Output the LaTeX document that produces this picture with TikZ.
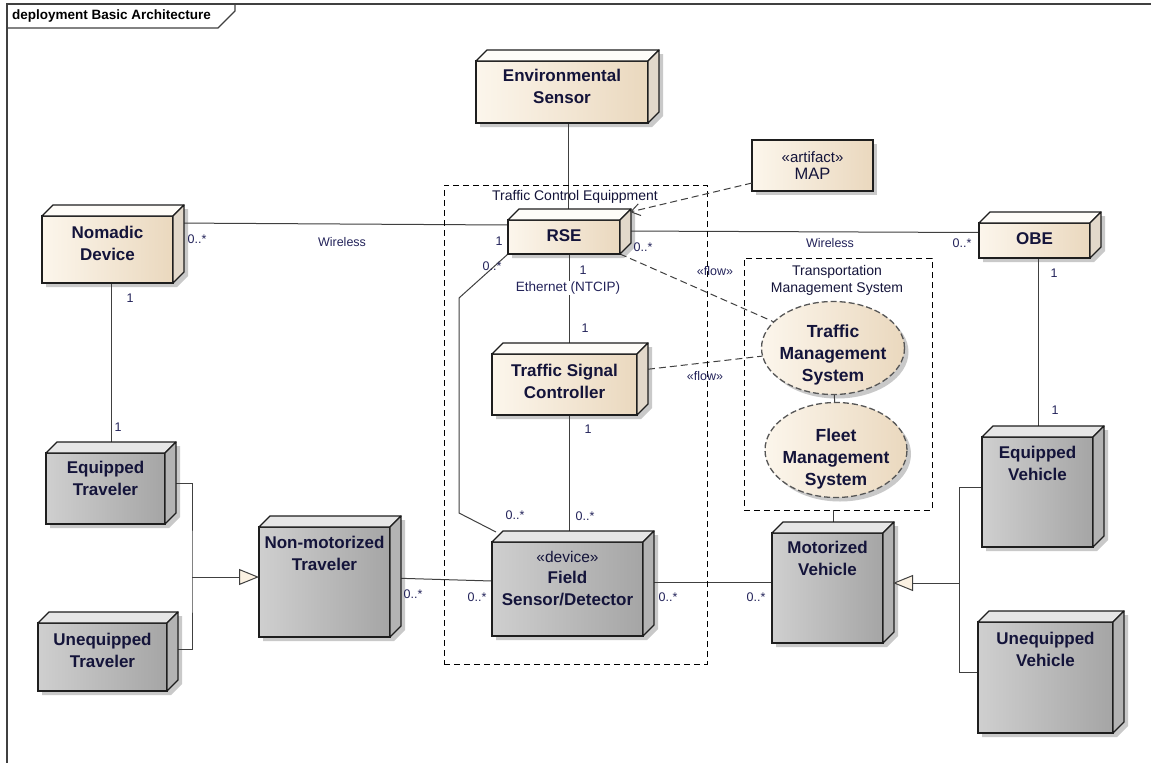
\documentclass[tikz,border=0pt]{standalone}
\usepackage{fontspec}
\setmainfont{Liberation Sans}
\usetikzlibrary{positioning,calc,shapes.geometric,arrows.meta}

\definecolor{beigeL}{HTML}{FCF6EC}
\definecolor{beigeR}{HTML}{EAD8BE}
\definecolor{beigeTop}{HTML}{FEFCF8}
\definecolor{beigeSide}{HTML}{E2D8CA}
\definecolor{greyL}{HTML}{CFCFCF}
\definecolor{greyR}{HTML}{A5A5A5}
\definecolor{greyTop}{HTML}{E6E6E6}
\definecolor{greySide}{HTML}{B3B3B3}
\definecolor{shadowc}{HTML}{C9C9C9}
\definecolor{edgec}{HTML}{1E1E1E}
\definecolor{txtc}{HTML}{14143A}
\definecolor{lblc}{HTML}{23235A}
\definecolor{trifill}{HTML}{FBF1E2}

\pgfdeclarelayer{shade}
\pgfdeclarelayer{back}
\pgfsetlayers{shade,back,main}

\tikzset{
  devbox/.style={rectangle, draw=edgec, line width=1.3pt, outer sep=0pt, inner sep=0pt},
  beigeface/.style={left color=beigeL, right color=beigeR},
  beigetop/.style={fill=beigeTop},
  beigeside/.style={fill=beigeSide},
  greyface/.style={left color=greyL, right color=greyR},
  greytop/.style={fill=greyTop},
  greyside/.style={fill=greySide},
  facet/.style={draw=edgec, line width=1.3pt, line join=round},
  devtext/.style={inner sep=0pt, align=center, text=txtc, font=\fontsize{17}{21.5}\selectfont\bfseries},
  lbl/.style={inner sep=0pt, text=lblc, font=\fontsize{12.5}{15}\selectfont},
  grouplbl/.style={inner sep=0pt, align=center, text=txtc, font=\fontsize{14}{17}\selectfont},
  conn/.style={draw=edgec!85, line width=1pt},
  flow/.style={conn, dash pattern=on 7pt off 4pt},
  gen/.style={conn, -{Triangle[length=20pt,width=16pt,fill=trifill]}},
  dashbox/.style={rectangle, draw=black, line width=1pt, dash pattern=on 6pt off 4pt, outer sep=0pt, inner sep=0pt},
  usecase/.style={ellipse, draw=edgec!75, line width=1.3pt, dash pattern=on 6pt off 3pt,
    left color=beigeL, right color=beigeR, outer sep=0pt, inner sep=0pt},
  artbox/.style={rectangle, draw=edgec, line width=1.3pt, left color=beigeL, right color=beigeR,
    align=center, text=txtc, inner sep=0pt, outer sep=0pt, font=\fontsize{15}{16.5}\selectfont},
}

% node box: name, front x1, y1, x2, y2, colour set, text gap, text
\newcommand{\devnode}[8]{%
  \begin{pgfonlayer}{shade}
    \fill[shadowc] ({#2+4},{#5+4}) -- ({#2+4},{#3+4}) -- ({#2+15},{#3-7}) -- ({#4+15},{#3-7})
      -- ({#4+15},{#5-7}) -- ({#4+4},{#5+4}) -- cycle;
  \end{pgfonlayer}
  \node[devbox, #6face, minimum width={(#4-#2)*1pt}, minimum height={(#5-#3)*1pt}]
    (#1) at ({(#2+#4)/2},{(#3+#5)/2}) {};
  \filldraw[facet, #6top] (#1.north west) -- ++(11,-11) -- ++({#4-#2},0) -- (#1.north east) -- cycle;
  \filldraw[facet, #6side] (#1.north east) -- ++(11,-11) -- ++(0,{#5-#3}) -- (#1.south east) -- cycle;
  \node[devtext, below=#7pt of #1.north] (#1-t) {#8};
}

\begin{document}
\begin{tikzpicture}[x=1pt,y=-1pt]
\useasboundingbox (0,0) rectangle (1151,763);
\begin{pgfonlayer}{shade}
  \fill[white] (0,0) rectangle (1151,763);
\end{pgfonlayer}

% frame
\draw[draw=black!75, line width=1.5pt] (1151,4) -- (7,4) -- (7,763);
\draw[draw=black!75, line width=1.2pt] (7,28) -- (218,28) -- (235,11) -- (235,4);
\node[anchor=west, inner sep=0pt, font=\fontsize{13.5}{15}\selectfont\bfseries] (frame-t) at (12,16) {deployment Basic Architecture};

% groups
\node[dashbox, minimum width=263pt, minimum height=479pt] (tcebox) at (575.5,424.5) {};
\node[grouplbl] (tcebox-t) at (575,197) {Traffic Control Equippment};
\node[dashbox, minimum width=188pt, minimum height=252pt] (tmsbox) at (838,384) {};
\node[grouplbl] (tmsbox-t) at (837,280) {Transportation\\Management System};

% nodes
\devnode{env}{476}{61}{648}{123}{beige}{8}{Environmental\\Sensor}
\devnode{nomadic}{42}{216}{173}{283}{beige}{10}{Nomadic\\Device}
\devnode{rse}{508}{220}{620}{254}{beige}{9}{RSE}
\devnode{tsc}{492}{354}{637}{415}{beige}{10}{Traffic Signal\\Controller}
\devnode{obe}{979}{223}{1090}{258}{beige}{9}{OBE}
\devnode{eqtrav}{46}{453}{165}{524}{grey}{8}{Equipped\\Traveler}
\devnode{uneqtrav}{38}{623}{167}{691}{grey}{10}{Unequipped\\Traveler}
\devnode{nonmot}{259}{527}{390}{637}{grey}{9}{Non-motorized\\Traveler}
\devnode{field}{492}{542}{643}{636}{grey}{9}{{\mdseries\fontsize{15.5}{21}\selectfont «device»}\\Field\\Sensor/Detector}
\devnode{motveh}{772}{533}{883}{643}{grey}{8}{Motorized\\Vehicle}
\devnode{eqveh}{982}{437}{1093}{547}{grey}{9}{Equipped\\Vehicle}
\devnode{uneqveh}{978}{622}{1113}{733}{grey}{10}{Unequipped\\Vehicle}

\begin{pgfonlayer}{shade}
  \fill[shadowc] (756,144) rectangle (877,195);
  \fill[shadowc] (837,352) ellipse (71.5 and 46.5);
  \fill[shadowc] (840,454) ellipse (71 and 47.5);
\end{pgfonlayer}
\node[artbox, minimum width=121pt, minimum height=51pt] (map) at (812.5,165.5)
  {«artifact»\\{\fontsize{16.5}{16.5}\selectfont MAP}};

\node[usecase, minimum width=143pt, minimum height=93pt] (tms) at (833,348) {};
\node[devtext, font=\fontsize{17.5}{22}\selectfont\bfseries] (tms-t) at (833,355) {Traffic\\Management\\System};
\node[usecase, minimum width=142pt, minimum height=95pt] (fms) at (836,450) {};
\node[devtext, font=\fontsize{17.5}{22}\selectfont\bfseries] (fms-t) at (836,459) {Fleet\\Management\\System};

\coordinate (bendA) at (459,298);
\coordinate (bendB) at (459,513);
\coordinate (jt) at (192,577);
\coordinate (jv) at (959,583);

% connectors
\begin{pgfonlayer}{back}
  \draw[conn] (env.south) ++(6,0) coordinate (e1) -- (e1 |- rse.north);
  \draw[conn] ($(nomadic.north east)+(0,7)$) -- ($(rse.west)+(0,-12)$);
  \draw[conn] ($(rse.east)+(0,-6)$) -- ($(obe.west)+(0,-8)$);
  \draw[conn] (rse.south) ++(5,0) coordinate (r1) -- (r1 |- tsc.north);
  \draw[conn] (tsc.south) ++(5,0) coordinate (t1) -- (t1 |- field.north);
  \draw[conn] (rse.south west) -- (bendA) -- (bendB) -- ($(field.north west)+(4,-10)$);
  \draw[conn] (nomadic.south) ++(4,0) coordinate (n1) -- (n1 |- eqtrav.north);
  \draw[conn] (obe.south) ++(4,0) coordinate (o1) -- (o1 |- eqveh.north);
  \draw[conn] ($(nonmot.east)+(0,-4)$) -- ($(field.west)+(0,-8)$);
  \draw[conn] ($(field.east)+(0,-7)$) -- ($(motveh.west)+(0,-6)$);
  \draw[conn] (tmsbox.south) ++(-5,0) coordinate (b1) -- (b1 |- motveh.north);
  \draw[conn] (tms) -- (fms);
  \draw[flow] (rse.south east) -- (tms);
  \draw[flow] ($(tsc.east)+(0,-14)$) -- (tms);
  \draw[conn] ($(eqtrav.east)+(0,-5)$) -| (jt) |- ($(uneqtrav.east)+(0,-8)$);
  \draw[conn] ($(eqveh.west)+(0,-5)$) -| (jv) |- ($(uneqveh.west)+(0,-5)$);
\end{pgfonlayer}
\draw[gen] (jt) -- (jt -| nonmot.west);
\draw[gen] (jv) -- ($(motveh.east)+(10,-5)$);
\draw[flow, -{Straight Barb[length=9pt,width=12pt]}] ($(map.south west)+(0,-8)$) -- ($(rse.north east)+(10,-8)$);

% labels
\node[lbl] (w1) at (342,242) {Wireless};
\node[lbl] (w2) at (830,243) {Wireless};
\node[lbl, fill=white, inner sep=1pt, font=\fontsize{13.5}{15}\selectfont] (eth) at (568,288) {Ethernet (NTCIP)};
\node[lbl] (f1) at (715,271) {«flow»};
\node[lbl] (f2) at (705,376) {«flow»};
\node[lbl] (m1) at (197,239) {0..*};
\node[lbl] (m2) at (499,241) {1};
\node[lbl] (m3) at (643,247) {0..*};
\node[lbl] (m4) at (962,243) {0..*};
\node[lbl] (m5) at (492,266) {0..*};
\node[lbl] (m6) at (583,270) {1};
\node[lbl] (m7) at (585,328) {1};
\node[lbl] (m8) at (588,429) {1};
\node[lbl] (m9) at (515,515) {0..*};
\node[lbl] (m10) at (585,516) {0..*};
\node[lbl] (m11) at (130,298) {1};
\node[lbl] (m12) at (118,427) {1};
\node[lbl] (m13) at (1054,273) {1};
\node[lbl] (m14) at (1055,410) {1};
\node[lbl] (m15) at (413,594) {0..*};
\node[lbl] (m16) at (477,597) {0..*};
\node[lbl] (m17) at (668,597) {0..*};
\node[lbl] (m18) at (756,597) {0..*};
\end{tikzpicture}
\end{document}
